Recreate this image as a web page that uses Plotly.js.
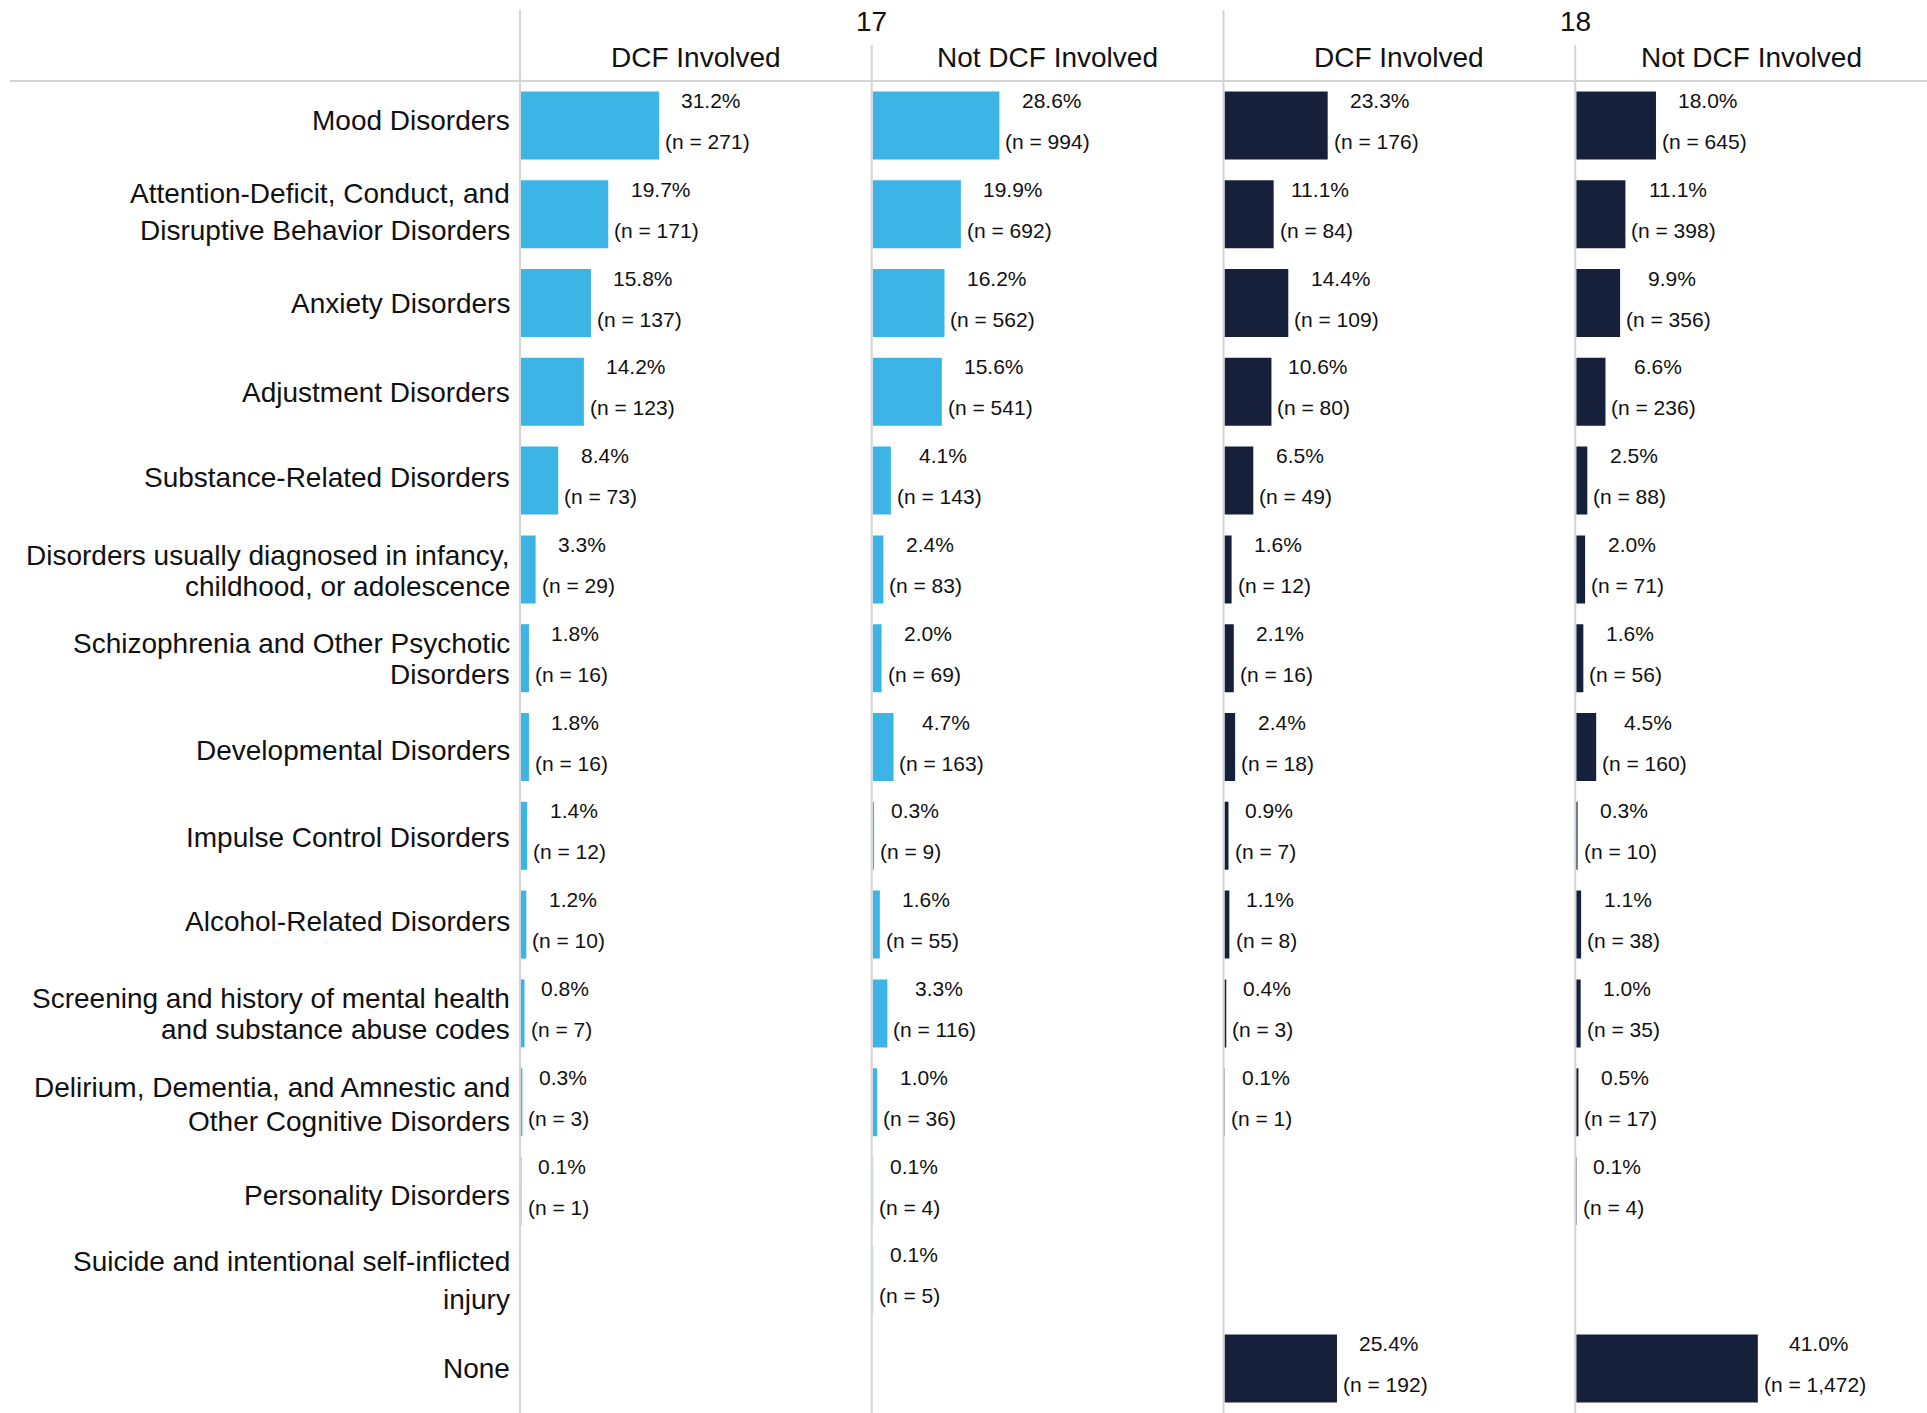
<!DOCTYPE html>
<html>
<head>
<meta charset="utf-8">
<script src="https://cdn.plot.ly/plotly-3.0.1.min.js"></script>
<style>html,body{margin:0;padding:0;background:#fff;}#chart{width:1927px;height:1413px;}</style>
</head>
<body>
<div id="chart"></div>
<script>
// ---------- data ----------
const categories = [
  "Mood Disorders",
  "Attention-Deficit, Conduct, and<br>Disruptive Behavior Disorders",
  "Anxiety Disorders",
  "Adjustment Disorders",
  "Substance-Related Disorders",
  "Disorders usually diagnosed in infancy,<br>childhood, or adolescence",
  "Schizophrenia and Other Psychotic<br>Disorders",
  "Developmental Disorders",
  "Impulse Control Disorders",
  "Alcohol-Related Disorders",
  "Screening and history of mental health<br>and substance abuse codes",
  "Delirium, Dementia, and Amnestic and<br>Other Cognitive Disorders",
  "Personality Disorders",
  "Suicide and intentional self-inflicted<br>injury",
  "None"
];
const ageGroups = ["17", "18"];
const panelNames = ["DCF Involved", "Not DCF Involved", "DCF Involved", "Not DCF Involved"];

const pct17DCF    = [31.2, 19.7, 15.8, 14.2, 8.4, 3.3, 1.8, 1.8, 1.4, 1.2, 0.8, 0.3, 0.1, null, null];
const n17DCF      = [271, 171, 137, 123, 73, 29, 16, 16, 12, 10, 7, 3, 1, null, null];
const pct17NotDCF = [28.6, 19.9, 16.2, 15.6, 4.1, 2.4, 2.0, 4.7, 0.3, 1.6, 3.3, 1.0, 0.1, 0.1, null];
const n17NotDCF   = [994, 692, 562, 541, 143, 83, 69, 163, 9, 55, 116, 36, 4, 5, null];
const pct18DCF    = [23.3, 11.1, 14.4, 10.6, 6.5, 1.6, 2.1, 2.4, 0.9, 1.1, 0.4, 0.1, null, null, 25.4];
const n18DCF      = [176, 84, 109, 80, 49, 12, 16, 18, 7, 8, 3, 1, null, null, 192];
const pct18NotDCF = [18.0, 11.1, 9.9, 6.6, 2.5, 2.0, 1.6, 4.5, 0.3, 1.1, 1.0, 0.5, 0.1, null, 41.0];
const n18NotDCF   = [645, 398, 356, 236, 88, 71, 56, 160, 10, 38, 35, 17, 4, null, 1472];

// ---------- layout (positions / styles) ----------
// vertical offset in px of each category label line from its row centre (layout only)
const labelLineOffsets = [
  [-5], [-21, 16], [0], [1], [-3], [-14, 17], [-15, 16], [3], [2], [-3],
  [-15, 16], [-15, 19], [4], [-18, 20], [0]
];

const W = 1927, H = 1413, L = 521, T = 81;
const px = x => (x - L) / (W - L);
const py = y => 1 - (y - T) / (H - T);
const LIGHT = "#3db4e6", NAVY = "#16203a", GRID = "#d4d4d4";
const FONT = "'Liberation Sans', Arial, sans-serif";
const seps = [520, 871.75, 1223.5, 1575.25, 1927];

const panels = [
  {pct: pct17DCF, n: n17DCF, color: LIGHT},
  {pct: pct17NotDCF, n: n17NotDCF, color: LIGHT},
  {pct: pct18DCF, n: n18DCF, color: NAVY},
  {pct: pct18NotDCF, n: n18NotDCF, color: NAVY}
];

const canvas = document.createElement("canvas");
const ctx = canvas.getContext("2d");
ctx.font = "21px 'Liberation Sans', Arial, sans-serif";

const data = [];
const annotations = [];
const layout = {
  width: W, height: H,
  margin: {l: L, r: 0, t: T, b: 0, pad: 0},
  paper_bgcolor: "#fff", plot_bgcolor: "rgba(0,0,0,0)",
  showlegend: false,
  bargap: 0.234,
  font: {family: FONT, color: "#111"},
  yaxis: {
    type: "category",
    categoryorder: "array", categoryarray: categories,
    range: [categories.length - 0.5, -0.5],
    showgrid: false, zeroline: false, showline: false, ticks: "",
    showticklabels: false,
    fixedrange: true
  },
  shapes: [],
  annotations: annotations
};

panels.forEach((p, i) => {
  const xa = i === 0 ? "x" : "x" + (i + 1);
  const key = i === 0 ? "xaxis" : "xaxis" + (i + 1);
  const d0 = Math.max(0, px(seps[i] + 1)), d1 = Math.min(1, px(seps[i + 1]));
  layout[key] = {
    domain: [d0, d1],
    range: [0, 79.2],
    showgrid: false, zeroline: false, showline: false,
    showticklabels: false, ticks: "", fixedrange: true,
    anchor: "y"
  };
  data.push({
    type: "bar", orientation: "h",
    x: p.pct, y: categories,
    xaxis: xa, yaxis: "y",
    marker: {color: p.color, line: {width: 0}},
    hoverinfo: "skip"
  });
  p.pct.forEach((v, j) => {
    if (v === null) return;
    const nText = "(n = " + p.n[j].toLocaleString("en-US") + ")";
    const pText = v.toFixed(1) + "%";
    const wN = ctx.measureText(nText).width;
    annotations.push({
      xref: xa, yref: "y", x: v, y: j,
      text: pText, showarrow: false,
      xanchor: "center", yanchor: "middle",
      xshift: 6 + wN / 2 + 4, yshift: 25,
      font: {size: 21, family: FONT, color: "#111"}
    });
    annotations.push({
      xref: xa, yref: "y", x: v, y: j,
      text: nText, showarrow: false,
      xanchor: "center", yanchor: "middle",
      xshift: 6 + wN / 2, yshift: -16,
      font: {size: 21, family: FONT, color: "#111"}
    });
  });
  // panel header
  annotations.push({
    xref: "paper", yref: "paper",
    x: px((seps[i] + seps[i + 1]) / 2), y: py(58),
    text: panelNames[i], showarrow: false,
    xanchor: "center", yanchor: "middle",
    font: {size: 28, family: FONT, color: "#111"}
  });
});

// category labels (right-aligned, left of the plot)
categories.forEach((c, j) => {
  c.split("<br>").forEach((lineText, k) => {
    annotations.push({
      xref: "paper", yref: "y", x: 0, y: j,
      text: lineText, showarrow: false,
      xanchor: "right", yanchor: "middle",
      xshift: -10, yshift: -labelLineOffsets[j][k],
      borderpad: 0,
      font: {size: 28, family: FONT, color: "#111"}
    });
  });
});

// age group headers
ageGroups.forEach((g, k) => {
  annotations.push({
    xref: "paper", yref: "paper",
    x: px(seps[2 * k + 1]), y: py(22),
    text: g, showarrow: false,
    xanchor: "center", yanchor: "middle",
    font: {size: 28, family: FONT, color: "#111"}
  });
});

// separators
const line = (x0, y0, x1, y1) => ({
  type: "line", xref: "paper", yref: "paper",
  x0: px(x0), y0: py(y0), x1: px(x1), y1: py(y1),
  line: {color: GRID, width: 2}, layer: "below"
});
layout.shapes.push(line(10, 81, W, 81));
layout.shapes.push(line(seps[0], 10, seps[0], H));
layout.shapes.push(line(seps[1], 45, seps[1], H));
layout.shapes.push(line(seps[2], 10, seps[2], H));
layout.shapes.push(line(seps[3], 45, seps[3], H));

Plotly.newPlot("chart", data, layout, {displayModeBar: false, staticPlot: true});
</script>
</body>
</html>
